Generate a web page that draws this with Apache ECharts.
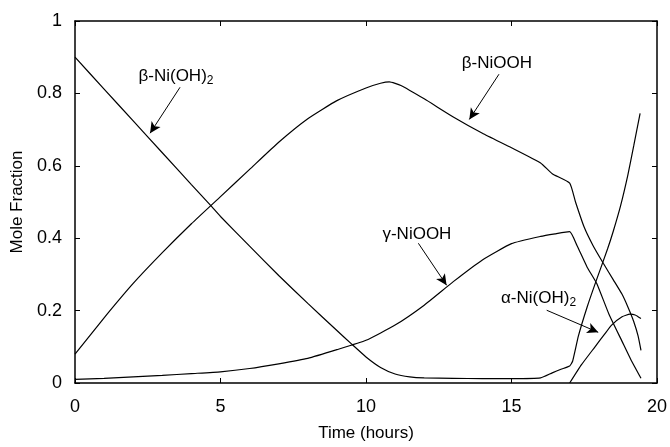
<!DOCTYPE html>
<html>
<head>
<meta charset="utf-8">
<script src="https://cdn.jsdelivr.net/npm/echarts@6/dist/echarts.min.js"></script>
<style>
  html, body { margin: 0; padding: 0; background: #fff; }
  #chart { width: 670px; height: 447px; }
</style>
</head>
<body>
<div id="chart"></div>
<script>
// Phase mole fractions of the nickel hydroxide electrode versus time
const betaNiOH2Time = [0, 1, 2, 3, 4, 4.7, 5, 6, 7, 8, 9, 9.5, 10, 10.5, 11, 11.5, 12, 13, 14, 15, 16, 16.4, 16.7, 17.0, 17.1, 17.3, 17.6, 17.9, 18.3, 18.5, 18.75, 19.0, 19.2, 19.42];
const betaNiOH2 = [0.9, 0.812, 0.724, 0.636, 0.548, 0.487, 0.46, 0.378, 0.297, 0.22, 0.145, 0.108, 0.072, 0.043, 0.025, 0.017, 0.014, 0.013, 0.012, 0.012, 0.014, 0.028, 0.038, 0.047, 0.06, 0.13, 0.21, 0.28, 0.37, 0.42, 0.49, 0.575, 0.655, 0.745];

const betaNiOOHTime = [0, 1, 2, 3, 4, 5, 6, 7, 8, 9, 10, 10.5, 10.8, 11.2, 12, 13, 14, 15, 16, 16.4, 17, 17.2, 17.5, 17.8, 18.16, 18.5, 18.8, 19.0, 19.2, 19.35, 19.45];
const betaNiOOH = [0.08, 0.18, 0.275, 0.36, 0.44, 0.515, 0.59, 0.665, 0.73, 0.78, 0.815, 0.828, 0.832, 0.822, 0.785, 0.735, 0.69, 0.65, 0.608, 0.578, 0.552, 0.5, 0.43, 0.38, 0.33, 0.285, 0.245, 0.21, 0.17, 0.13, 0.09];

const gammaNiOOHTime = [0, 1, 2, 3, 4, 5, 6, 7, 8, 9, 10, 11, 12, 13, 14, 15, 16, 16.5, 17, 17.25, 17.6, 17.93, 18.35, 18.8, 19.1, 19.45];
const gammaNiOOH = [0.01, 0.013, 0.017, 0.021, 0.026, 0.031, 0.04, 0.053, 0.068, 0.092, 0.118, 0.16, 0.215, 0.28, 0.34, 0.385, 0.405, 0.412, 0.418, 0.38, 0.32, 0.275, 0.19, 0.115, 0.065, 0.013];

const alphaNiOH2Time = [17.0, 17.4, 17.87, 18.2, 18.44, 18.8, 19.07, 19.25, 19.45];
const alphaNiOH2 = [0.0, 0.05, 0.1, 0.135, 0.16, 0.183, 0.19, 0.188, 0.178];

// Axis ticks
const xTicks = [0, 5, 10, 15, 20];
const yTicks = [0, 0.2, 0.4, 0.6, 0.8, 1];

// Callout labels (data units): text anchor, arrow tail, arrow head
const calloutText = ['β-Ni(OH){s|2}', 'β-NiOOH', 'γ-NiOOH', 'α-Ni(OH){s|2}'];
const calloutAt = [[3.47, 0.848], [14.5, 0.883], [11.75, 0.411], [15.93, 0.235]];
const arrowFrom = [[3.61, 0.817], [14.57, 0.853], [11.8, 0.386], [16.21, 0.201]];
const arrowTo = [[2.58, 0.69], [13.55, 0.728], [12.77, 0.27], [17.98, 0.14]];

const FONT = 'Liberation Sans, Arial, sans-serif';
const INK = '#000';

function pairs(t, v) { return t.map((x, i) => [x, v[i]]); }

function callout(i) {
  return {
    markLine: {
      silent: true,
      symbol: ['none', 'arrow'],
      symbolSize: [8, 11],
      label: { show: false },
      lineStyle: { color: INK, width: 1, type: 'solid' },
      data: [[{ coord: arrowFrom[i] }, { coord: arrowTo[i] }]]
    },
    markPoint: {
      silent: true,
      symbol: 'circle',
      symbolSize: 0,
      data: [{ coord: calloutAt[i] }],
      label: {
        show: true,
        position: 'inside',
        formatter: calloutText[i],
        color: INK,
        fontFamily: FONT,
        fontSize: 17,
        lineHeight: 22,
        rich: {
          s: { fontSize: 12, lineHeight: 12, verticalAlign: 'bottom', fontFamily: FONT, color: INK }
        }
      }
    }
  };
}

function curve(name, t, v, i) {
  return Object.assign({
    name: name,
    type: 'line',
    data: pairs(t, v),
    showSymbol: false,
    smooth: 0.15,
    lineStyle: { color: INK, width: 1.2 },
    itemStyle: { color: INK }
  }, callout(i));
}

const axisCommon = {
  axisLine: { show: true, onZero: false, lineStyle: { color: INK, width: 1.5 } },
  axisTick: { show: true, inside: true, length: 5, lineStyle: { color: INK, width: 1 } },
  splitLine: { show: false }
};

const chart = echarts.init(document.getElementById('chart'), null, { renderer: 'canvas' });
chart.setOption({
  animation: false,
  backgroundColor: '#fff',
  grid: { left: 75, right: 13, top: 21, bottom: 64 },
  xAxis: [
    Object.assign({
      type: 'value', min: xTicks[0], max: xTicks[xTicks.length - 1], interval: xTicks[1] - xTicks[0],
      name: 'Time (hours)', nameLocation: 'middle', nameGap: 42,
      nameTextStyle: { color: INK, fontFamily: FONT, fontSize: 17 },
      axisLabel: { color: INK, fontFamily: FONT, fontSize: 18, margin: 15 }
    }, axisCommon),
    Object.assign({
      type: 'value', position: 'top', min: xTicks[0], max: xTicks[xTicks.length - 1], interval: xTicks[1] - xTicks[0],
      axisLabel: { show: false }
    }, axisCommon)
  ],
  yAxis: [
    Object.assign({
      type: 'value', min: yTicks[0], max: yTicks[yTicks.length - 1], interval: yTicks[1] - yTicks[0],
      name: 'Mole Fraction', nameLocation: 'middle', nameGap: 46, nameRotate: 90,
      nameTextStyle: { color: INK, fontFamily: FONT, fontSize: 17 },
      axisLabel: { color: INK, fontFamily: FONT, fontSize: 18, margin: 13 }
    }, axisCommon),
    Object.assign({
      type: 'value', position: 'right', min: yTicks[0], max: yTicks[yTicks.length - 1], interval: yTicks[1] - yTicks[0],
      axisLabel: { show: false }
    }, axisCommon)
  ],
  series: [
    curve('β-Ni(OH)2', betaNiOH2Time, betaNiOH2, 0),
    curve('β-NiOOH', betaNiOOHTime, betaNiOOH, 1),
    curve('γ-NiOOH', gammaNiOOHTime, gammaNiOOH, 2),
    curve('α-Ni(OH)2', alphaNiOH2Time, alphaNiOH2, 3)
  ]
});
</script>
</body>
</html>
